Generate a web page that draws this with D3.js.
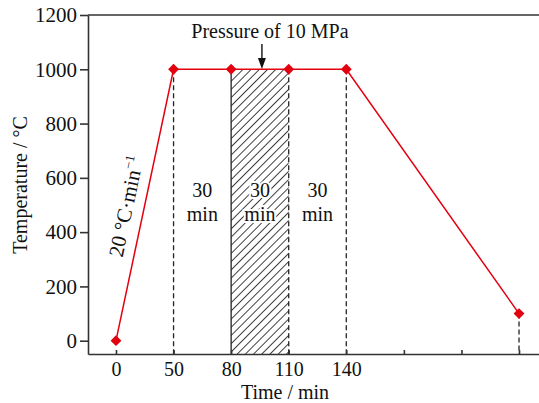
<!DOCTYPE html>
<html>
<head>
<meta charset="utf-8">
<script src="https://cdn.jsdelivr.net/npm/d3@7"></script>
<style>
  body { margin: 0; background: #fff; }
  svg text { font-family: "Liberation Serif", "Times New Roman", serif; fill: #111; }
</style>
</head>
<body>
<div id="chart"></div>
<script>
// tick labels along the time axis (positions are evenly spaced, not to scale)
const xTickLabels = ['0', '50', '80', '110', '140', '', '', '']
const yTicks = [0, 200, 400, 600, 800, 1000, 1200]

// heating profile: tick position index and temperature
const pointPos = [0, 1, 2, 3, 4, 7]
const temps = [0, 1000, 1000, 1000, 1000, 100]

// holding stages between two positions
const stageFrom = [1, 2, 3]
const stageTo = [2, 3, 4]
const stageText = ['30', '30', '30']
const stageUnit = ['min', 'min', 'min']

// pressure applied during the second stage
const pressFrom = 2
const pressTo = 3
const pressLabel = 'Pressure of 10 MPa'

const width = 539
const height = 403
const margin = {top: 15, right: 0, bottom: 49, left: 88}
const red = '#e3000f'
const serif = '"Liberation Serif", "Times New Roman", serif'

const svg = d3.select('#chart').append('svg')
  .attr('width', width)
  .attr('height', height)

const x = d3.scaleLinear()
  .domain([-0.486, 7.347])
  .range([margin.left, width - margin.right])

const y = d3.scaleLinear()
  .domain([-49, 1200])
  .range([height - margin.bottom, margin.top])

// hatch pattern for the pressure stage
const defs = svg.append('defs')
const pat = defs.append('pattern')
  .attr('id', 'hatch')
  .attr('patternUnits', 'userSpaceOnUse')
  .attr('width', 5.8)
  .attr('height', 5.8)
  .attr('patternTransform', 'rotate(45)')
pat.append('line')
  .attr('x1', 0).attr('y1', 0)
  .attr('x2', 0).attr('y2', 5.8)
  .attr('stroke', '#111')
  .attr('stroke-width', 1.6)

svg.append('rect')
  .attr('x', x(pressFrom))
  .attr('y', y(1000))
  .attr('width', x(pressTo) - x(pressFrom))
  .attr('height', y(-49) - y(1000))
  .attr('fill', 'url(#hatch)')

// dashed drop lines
const drops = pointPos.map((p, i) => ({pos: p, t: temps[i]})).filter(d => d.pos > 0)
svg.append('g')
  .selectAll('line')
  .data(drops)
  .enter().append('line')
  .attr('x1', d => x(d.pos))
  .attr('x2', d => x(d.pos))
  .attr('y1', d => y(d.t))
  .attr('y2', y(-49))
  .attr('stroke', '#222')
  .attr('stroke-width', 1.3)
  .attr('stroke-dasharray', d => d.pos === pressFrom ? null : '5,3')

// axes
const yAxis = svg.append('g')
  .attr('transform', `translate(${margin.left},0)`)
  .call(d3.axisLeft(y).tickValues(yTicks).tickFormat(d3.format('d'))
    .tickSize(8).tickSizeOuter(0).tickPadding(3))

const xAxis = svg.append('g')
  .attr('transform', `translate(0,${height - margin.bottom})`)
  .call(d3.axisBottom(x).tickValues(d3.range(xTickLabels.length))
    .tickFormat(i => xTickLabels[i]).tickSize(-4).tickSizeOuter(0).tickPadding(8))

yAxis.selectAll('text').style('font-family', serif).style('font-size', '21px')
xAxis.selectAll('text').style('font-family', serif).style('font-size', '20px')
svg.selectAll('.domain, .tick line').attr('stroke', '#333').attr('stroke-width', 1.6)

// top frame line
svg.append('line')
  .attr('x1', margin.left).attr('x2', width)
  .attr('y1', y(1200)).attr('y2', y(1200))
  .attr('stroke', '#333').attr('stroke-width', 1.6)

// profile line and markers
const pts = pointPos.map((p, i) => [x(p), y(temps[i])])
svg.append('path')
  .attr('d', d3.line()(pts))
  .attr('fill', 'none')
  .attr('stroke', red)
  .attr('stroke-width', 1.5)

svg.append('g')
  .selectAll('path')
  .data(pts)
  .enter().append('path')
  .attr('transform', d => `translate(${d[0]},${d[1]})`)
  .attr('d', d3.symbol(d3.symbolDiamond2, 75))
  .attr('fill', red)

// stage labels
const stages = svg.append('g')
stageFrom.forEach((f, i) => {
  const cx = (x(f) + x(stageTo[i])) / 2
  const g = stages.append('text')
    .attr('text-anchor', 'middle')
    .attr('font-size', 20)
    .attr('stroke', '#fff')
    .attr('stroke-width', 4)
    .attr('paint-order', 'stroke')
  g.append('tspan').attr('x', cx).attr('y', 197).text(stageText[i])
  g.append('tspan').attr('x', cx).attr('y', 221).text(stageUnit[i])
})

// pressure label and arrow
const px = (x(pressFrom) + x(pressTo)) / 2
svg.append('text')
  .attr('x', px + 10)
  .attr('y', 38)
  .attr('text-anchor', 'middle')
  .attr('font-size', 20)
  .text(pressLabel)
svg.append('line')
  .attr('x1', px + 2).attr('x2', px + 2)
  .attr('y1', 44).attr('y2', 60)
  .attr('stroke', '#111').attr('stroke-width', 1.4)
svg.append('path')
  .attr('d', `M${px + 2 - 4},${58} L${px + 2 + 4},${58} L${px + 2},${69} Z`)
  .attr('fill', '#111')

// heating rate label
const rate = svg.append('text')
  .attr('transform', 'translate(133,208) rotate(-78)')
  .attr('text-anchor', 'middle')
  .attr('font-size', 21)
rate.append('tspan').text('20 °C·min')
rate.append('tspan').attr('font-size', 13).attr('dy', -9).text('−1')

// axis titles
svg.append('text')
  .attr('transform', 'translate(27,185) rotate(-90)')
  .attr('text-anchor', 'middle')
  .attr('font-size', 20)
  .text('Temperature / °C')

svg.append('text')
  .attr('x', 285)
  .attr('y', 399)
  .attr('text-anchor', 'middle')
  .attr('font-size', 20)
  .text('Time / min')
</script>
</body>
</html>
